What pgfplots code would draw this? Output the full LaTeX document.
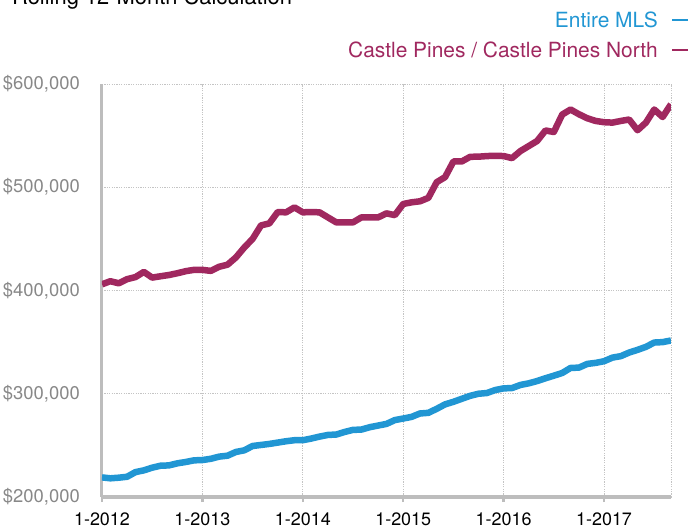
\documentclass[border=0pt]{standalone}
\usepackage{fontspec}
\setmainfont{TeX Gyre Heros}
\usepackage{pgfplots}
\pgfplotsset{compat=1.18}
\definecolor{mlsblue}{HTML}{2196D3}
\definecolor{cpmaroon}{HTML}{A0285F}
\definecolor{axgray}{HTML}{BDBDBD}
\definecolor{gridgray}{HTML}{C4C4C4}
\definecolor{labgray}{HTML}{888888}
\begin{document}
\begin{tikzpicture}
\useasboundingbox (-102bp,-30bp) rectangle (587bp,497bp);
\clip (-102bp,-30bp) rectangle (587bp,497bp);
\begin{axis}[
  at={(0bp,0bp)}, anchor=south west,
  scale only axis, width=569bp, height=413bp,
  xmin=0, xmax=68, ymin=200000, ymax=600000,
  axis x line*=bottom, axis y line*=left,
  axis line style={-, axgray, line width=3bp},
  xtick={0,12,24,36,48,60},
  xticklabels={1-2012,1-2013,1-2014,1-2015,1-2016,1-2017},
  extra x ticks={68}, extra x tick labels={},
  extra x tick style={major tick length=0pt},
  ytick={200000,300000,400000,500000,600000},
  yticklabels={{\$200,000},{\$300,000},{\$400,000},{\$500,000},{\$600,000}},
  scaled y ticks=false,
  grid=major,
  major grid style={gridgray, line width=0.8bp, dash pattern=on 1.2bp off 1.2bp},
  tick align=outside,
  x tick style={axgray, line width=2.5bp},
  y tick style={draw=none},
  major tick length=5bp,
  xticklabel style={anchor=base, inner sep=0pt, yshift=-23bp, font=\fontsize{18}{20}\selectfont, text=black},
  yticklabel style={anchor=east, inner sep=0pt, xshift=-17bp, font=\fontsize{18.5}{20}\selectfont, text=labgray},
]
\addplot[cpmaroon, line width=6.5bp, line join=round] coordinates {
(0,406000) (1,409000) (2,407000) (3,411000) (4,413000) (5,418000) (6,412500) (7,413800) (8,415000) (9,416700) (10,418700) (11,420000)
(12,420000) (13,419000) (14,423000) (15,425000) (16,432000) (17,441600) (18,450000) (19,463000) (20,465000) (21,476000) (22,475700) (23,480500)
(24,475700) (25,476000) (26,475700) (27,470800) (28,466000) (29,466000) (30,466000) (31,470800) (32,470800) (33,470800) (34,474700) (35,473000)
(36,483800) (37,485400) (38,486400) (39,489700) (40,504900) (41,509800) (42,525000) (43,525000) (44,529500) (45,529600) (46,530200) (47,530500)
(48,530200) (49,528200) (50,535000) (51,539900) (52,544800) (53,555000) (54,553500) (55,570400) (56,575300) (57,570700) (58,566800) (59,564200)
(60,563000) (61,562600) (62,564200) (63,565600) (64,555200) (65,562600) (66,575300) (67,568000) (68,580400)
};
\addplot[mlsblue, line width=6.5bp, line join=round] coordinates {
(0,219000) (1,218100) (2,218700) (3,219600) (4,224100) (5,225800) (6,228400) (7,230300) (8,230600) (9,232600) (10,233900) (11,235500)
(12,235800) (13,237000) (14,239100) (15,240000) (16,243600) (17,245200) (18,249400) (19,250400) (20,251400) (21,252700) (22,254000) (23,255000)
(24,255000) (25,256600) (26,258500) (27,260100) (28,260500) (29,263000) (30,265000) (31,265300) (32,267600) (33,269200) (34,270800) (35,274500)
(36,276000) (37,277600) (38,280900) (39,281500) (40,285400) (41,289700) (42,292200) (43,295100) (44,298000) (45,300000) (46,300700) (47,303600)
(48,305200) (49,305500) (50,308500) (51,310100) (52,312300) (53,315000) (54,317500) (55,320100) (56,325000) (57,325300) (58,328900) (59,329900)
(60,331500) (61,335000) (62,336400) (63,339900) (64,342500) (65,345400) (66,349600) (67,350000) (68,351600)
};
\end{axis}
\node[anchor=base west, inner sep=0pt, font=\fontsize{22}{26}\selectfont] at (-90bp,492bp) {Rolling 12-Month Calculation};
\node[anchor=base east, inner sep=0pt, text=mlsblue, font=\fontsize{21}{24}\selectfont] at (556bp,469bp) {Entire MLS};
\draw[mlsblue, line width=1.8bp] (570bp,477bp) -- (586bp,477bp);
\node[anchor=base east, inner sep=0pt, text=cpmaroon, font=\fontsize{21}{24}\selectfont] at (556bp,439bp) {Castle Pines / Castle Pines North};
\draw[cpmaroon, line width=1.8bp] (570bp,447bp) -- (586bp,447bp);
\end{tikzpicture}
\end{document}
